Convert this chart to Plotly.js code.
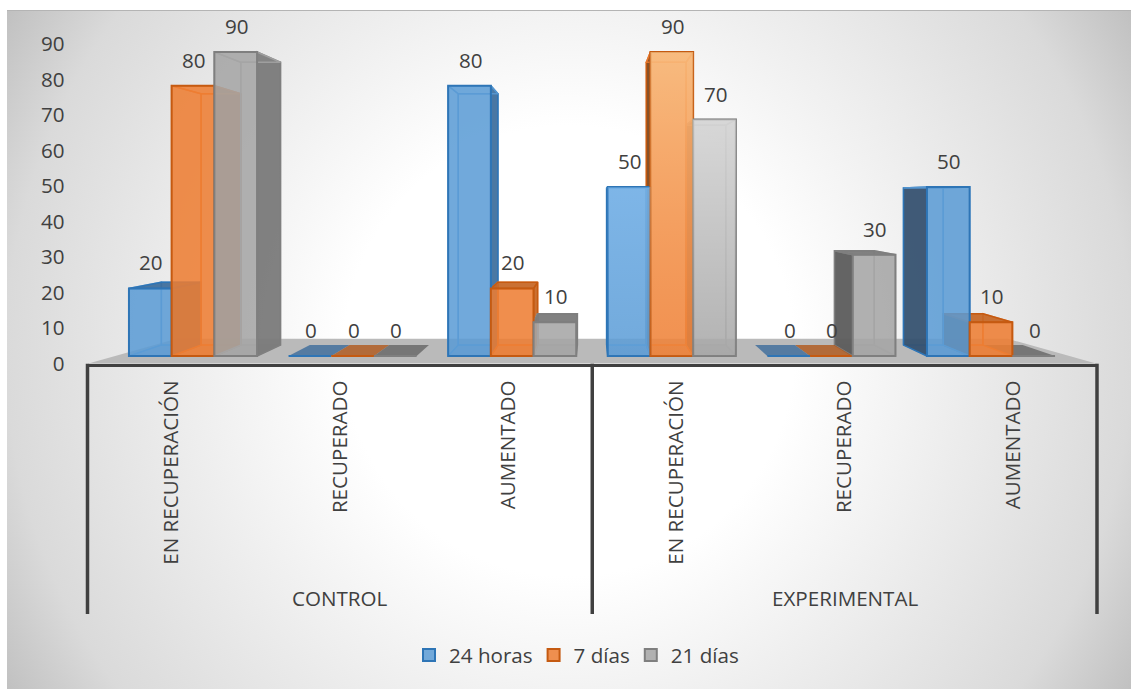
<!DOCTYPE html>
<html>
<head>
<meta charset="utf-8">
<script src="https://cdn.plot.ly/plotly-3.0.0.min.js"></script>
<style>
  html, body { margin: 0; padding: 0; background: #fff; }
  #panel { position: absolute; left: 7px; top: 10px; width: 1124px; height: 678px; border-top: 1px solid #b4b4b4;
    background: radial-gradient(circle 662px at 562px 340px, #ffffff 0%, #ffffff 34%, #f2f2f2 52%, #dadada 85%, #bfbfbf 100%); }
  #chart { position: absolute; left: 0; top: 0; width: 1131px; height: 689px; }
</style>
</head>
<body>
<div id="panel"></div>
<div id="chart"></div>
<script>
// Outcome by group and time point, drawn as 3D-looking columns
const categories = ['EN RECUPERACIÓN', 'RECUPERADO', 'AUMENTADO', 'EN RECUPERACIÓN', 'RECUPERADO', 'AUMENTADO'];
const groups = ['CONTROL', 'EXPERIMENTAL'];
const seriesNames = ['24 horas', '7 días', '21 días'];
const horas24 = [20, 0, 80, 50, 0, 50];
const dias7 = [80, 0, 20, 90, 0, 10];
const dias21 = [90, 0, 10, 70, 30, 0];
const yTicks = [0, 10, 20, 30, 40, 50, 60, 70, 80, 90];

const values = [horas24, dias7, dias21];
const W = 1131, H = 689;
const PX = { left: 87.5, right: 1097, zeroTick: 363.7, topTick: 44 };
const TEXT = '#404040', TEXT_SIZE = 20.6;

const fills = ['rgba(91,155,213,0.85)', 'rgba(237,125,49,0.85)', 'rgba(165,165,165,0.85)'];
const edges = ['#2E75B6', '#C55A11', '#7F7F7F'];
const rgb = [[91,155,213], [237,125,49], [165,165,165]];
const litSide = ['rgba(60,108,155,0.92)', 'rgba(198,102,36,0.92)', 'rgba(122,122,122,0.95)'];
const darkSide = ['rgba(50,78,108,0.92)', 'rgba(125,68,25,0.92)', 'rgba(92,92,92,0.95)'];
const flat = ['rgba(60,108,155,0.8)', 'rgba(176,88,26,0.8)', 'rgba(92,92,92,0.72)'];
const tint = (i, a) => `rgba(${rgb[i].join(',')},${a})`;

// Column plane scale: category spacing 159.6px, 3.378px per unit, baseline at y=356
const catStep = 159.6, unit = 3.378, base = 356;
const barRangeX = [(PX.left - 193) / catStep, (PX.right - 193) / catStep];
const barRangeY = [(base - PX.zeroTick) / unit, (base - PX.topTick) / unit];
const barWidth = 42.7 / catStep;

// Perspective towards a vanishing point, in data units
const depth = 0.93, vanishX = 2.5, vanishY = (base - 200) / unit;
const px = x => vanishX + depth * (x - vanishX);
const py = y => vanishY + depth * (y - vanishY);

const traces = [];
function face(xs, ys, fill, line, width) {
  traces.push({
    type: 'scatter', mode: 'lines', xaxis: 'x2', yaxis: 'y2', fill: 'toself',
    x: xs.concat(xs[0]), y: ys.concat(ys[0]), fillcolor: fill,
    line: { color: line, width: width }, hoverinfo: 'skip', showlegend: false, cliponaxis: false
  });
}

function drawColumn(cat, s) {
  const v = values[s][cat];
  const c = cat + (s - 1) * barWidth;
  const x0 = c - barWidth / 2, x1 = c + barWidth / 2;
  const leftOfCentre = c < vanishX;
  const near = leftOfCentre ? x1 : x0;   // side facing the viewer
  const far = leftOfCentre ? x0 : x1;
  const soft = tint(s, 0.85);
  const side = leftOfCentre ? litSide[s] : darkSide[s];
  if (v > 0) {
    face([px(x0), px(x1), px(x1), px(x0)], [py(0), py(0), py(v), py(v)], tint(s, 0.10), soft, 1.5);
    face([far, px(far), px(far), far], [0, py(0), py(v), v], tint(s, 0.10), soft, 1.5);
    face([x0, x1, px(x1), px(x0)], [0, 0, py(0), py(0)], tint(s, 0.28), soft, 1);
    face([near, px(near), px(near), near], [0, py(0), py(v), v], side, edges[s], 1.5);
    const topVisible = py(v) > v;
    face([x0, x1, px(x1), px(x0)], [v, v, py(v), py(v)], topVisible ? litSide[s] : tint(s, 0.12), topVisible ? edges[s] : soft, 1.5);
  } else {
    face([x0, x1, px(x1), px(x0)], [0, 0, py(0), py(0)], flat[s], 'rgba(0,0,0,0)', 1);
  }
}

// Faces are painted from the outside of each cluster towards the centre line
categories.forEach((_, cat) => {
  const order = cat < 3 ? [0, 1, 2] : [2, 1, 0];
  order.forEach(s => drawColumn(cat, s));
});

// Front faces are real bars on their own overlay so they stay above the depth faces
values.forEach((vals, s) => {
  traces.push({
    type: 'bar', name: seriesNames[s], x: categories.map((_, i) => i), y: vals,
    xaxis: 'x3', yaxis: 'y3', marker: { color: fills[s], line: { color: edges[s], width: 2 } },
    hoverinfo: 'skip', cliponaxis: false
  });
});

// Brighter sheen on the first experimental cluster
const sheen = [
  ['rgba(150,205,255,0.35)', 'rgba(150,205,255,0.02)'],
  ['rgba(255,225,170,0.55)', 'rgba(255,190,130,0.06)'],
  ['rgba(255,255,255,0.50)', 'rgba(255,255,255,0.02)']
];
values.forEach((vals, s) => {
  const c = 3 + (s - 1) * barWidth, x0 = c - barWidth / 2, x1 = c + barWidth / 2, v = vals[3];
  traces.push({
    type: 'scatter', mode: 'none', xaxis: 'x4', yaxis: 'y4', fill: 'toself',
    x: [x0, x1, x1, x0, x0], y: [0, 0, v, v, 0],
    fillgradient: { type: 'vertical', colorscale: [[0, sheen[s][1]], [1, sheen[s][0]]] },
    hoverinfo: 'skip', showlegend: false
  });
});

// Value labels sit a fixed distance above each column's front top
const annotations = [];
values.forEach((vals, s) => vals.forEach((v, cat) => annotations.push({
  xref: 'x3', yref: 'y3', x: cat + (s - 1) * barWidth, y: v, xshift: 1, yshift: 26,
  text: String(v), showarrow: false, font: { family: 'Open Sans', size: TEXT_SIZE, color: TEXT }
})));
groups.forEach((g, i) => annotations.push({
  xref: 'x', yref: 'paper', x: 1.5 + 3 * i, y: 1 - 598 / H, yanchor: 'middle', text: g, showarrow: false,
  font: { family: 'Open Sans', size: TEXT_SIZE, color: TEXT }
}));

const shapes = [
  // Chart floor
  { type: 'path', layer: 'below', xref: 'x', yref: 'y', fillcolor: '#bababa', line: { width: 0 },
    path: 'M 0 0 L 6 0 L 5.47 7.0 L 0.53 7.0 Z' }
].concat([PX.left, (PX.left + PX.right) / 2, PX.right].map(x => ({
  type: 'line', layer: 'above', xref: 'paper', yref: 'paper', x0: x / W, x1: x / W,
  y0: 1 - PX.zeroTick / H, y1: 1 - 614 / H, line: { color: TEXT, width: 3.5 }
})));

const hiddenX = () => ({ overlaying: 'x', range: barRangeX, visible: false, fixedrange: true });
const hiddenY = (anchor) => ({ overlaying: 'y', range: barRangeY, visible: false, fixedrange: true, anchor });

const layout = {
  width: W, height: H, margin: { l: 0, r: 0, t: 0, b: 0 },
  paper_bgcolor: 'rgba(0,0,0,0)', plot_bgcolor: 'rgba(0,0,0,0)',
  barmode: 'group', bargap: 1 - 3 * barWidth, bargroupgap: 0,
  font: { family: 'Open Sans', color: TEXT },
  xaxis: {
    domain: [PX.left / W, PX.right / W], range: [0, 6], fixedrange: true,
    tickmode: 'array', tickvals: categories.map((_, i) => i + 0.5), ticktext: categories,
    tickangle: -90, ticks: '', showgrid: false, zeroline: false, ticklabelstandoff: 5,
    tickfont: { family: 'Open Sans', size: TEXT_SIZE, color: TEXT },
    showline: true, linecolor: TEXT, linewidth: 3.5
  },
  yaxis: {
    domain: [1 - PX.zeroTick / H, 1 - PX.topTick / H], range: [0, 90], fixedrange: true,
    tickmode: 'array', tickvals: yTicks, ticks: '', showgrid: false, zeroline: false,
    showline: false, ticklabelstandoff: 22,
    tickfont: { family: 'Open Sans', size: TEXT_SIZE, color: TEXT }
  },
  xaxis2: hiddenX(), yaxis2: hiddenY('x2'),
  xaxis3: hiddenX(), yaxis3: hiddenY('x3'),
  xaxis4: hiddenX(), yaxis4: hiddenY('x4'),
  showlegend: true,
  legend: {
    orientation: 'h', x: 578.5 / W, xanchor: 'center', y: 1 - 655 / H, yanchor: 'middle',
    indentation: -4, font: { family: 'Open Sans', size: TEXT_SIZE, color: TEXT }, bgcolor: 'rgba(0,0,0,0)',
    itemclick: false, itemdoubleclick: false
  },
  shapes, annotations
};

Plotly.newPlot('chart', traces, layout, { displayModeBar: false, staticPlot: true });
</script>
</body>
</html>
